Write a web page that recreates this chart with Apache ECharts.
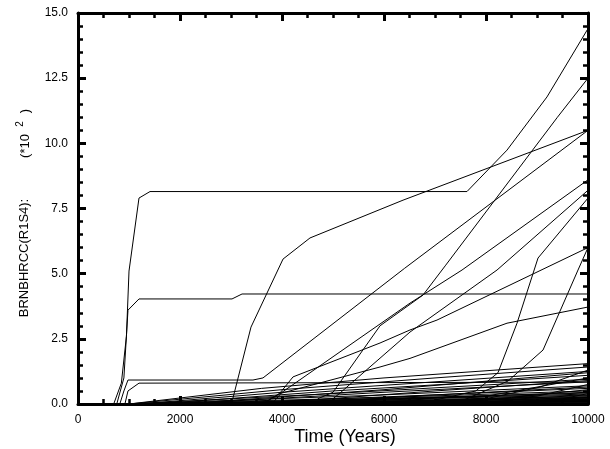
<!DOCTYPE html>
<html>
<head>
<meta charset="utf-8">
<script src="https://cdn.jsdelivr.net/npm/echarts@6/dist/echarts.min.js"></script>
<style>html,body{margin:0;padding:0;background:#fff}#c{width:610px;height:449px}</style>
</head>
<body>
<div id="c"></div>
<script>
// ---- data (Time in years, value in units of 10^2) ----
var xTicks = [0, 2000, 4000, 6000, 8000, 10000];
var yTicks = [0, 2.5, 5, 7.5, 10, 12.5, 15];

var runA = [[700,0],[850,0.8],[950,2.6],[1000,5.1],[1196,7.9],[1412,8.15],[7627,8.15],[8412,9.74],[9196,11.78],[10000,14.4]];
var runC = [[760,0],[900,1.0],[980,3.6],[1196,4.03],[3020,4.03],[3216,4.22],[10000,4.22]];
var runD = [[820,0],[900,0.5],[980,0.92],[3431,0.92],[3627,1.0],[6400,5.2],[10000,10.5]];
var runD2 = [[920,0],[980,0.5],[1196,0.8],[10000,0.84]];
var runB = [[2950,0],[3039,0.23],[3392,2.95],[4020,5.56],[4549,6.37],[6373,7.82],[10000,10.5]];
var runE = [[4700,0.2],[5000,0.45],[5922,3.0],[6765,4.18],[7200,5.3],[9400,11.0],[10000,12.5]];
var runF = [[3800,0],[4000,0.45],[6510,3.87],[7530,5.14],[10000,8.6]];
var runG = [[5000,0.2],[5137,0.42],[6510,2.76],[8216,5.14],[10000,8.2]];
var runH = [[7000,0.15],[7800,0.5],[8235,1.2],[8608,3.1],[9020,5.6],[10000,7.9]];
var runI = [[7500,0.1],[8431,0.88],[9118,2.07],[9804,5.14],[10000,6.0]];
var runJ = [[3700,0.1],[3960,0.4],[5922,1.42],[6510,1.75],[8412,3.1],[10000,3.72]];
var runK = [[3700,0.1],[3960,0.42],[4216,1.04],[5922,2.34],[6510,2.84],[7039,3.22],[10000,6.0]];

var lowRuns = [
  [[1000,0],[3600,0.6],[6000,1.0],[10000,1.55]],
  [[1000,0],[4000,0.55],[7000,1.0],[10000,1.42]],
  [[1200,0],[4000,0.45],[7000,0.85],[10000,1.25]],
  [[1500,0],[5000,0.5],[8000,0.85],[10000,1.1]],
  [[1000,0],[5000,0.4],[10000,0.95]],
  [[2000,0],[6000,0.45],[10000,0.85]],
  [[1000,0],[6000,0.35],[10000,0.7]],
  [[2500,0],[7000,0.35],[10000,0.6]],
  [[1000,0],[6000,0.25],[10000,0.5]],
  [[3000,0],[7000,0.25],[10000,0.45]],
  [[1000,0],[6000,0.2],[10000,0.38]],
  [[4000,0],[8000,0.2],[10000,0.32]],
  [[1000,0],[6000,0.15],[10000,0.28]],
  [[1500,0],[7000,0.12],[10000,0.22]],
  [[2000,0],[8000,0.1],[10000,0.17]],
  [[1000,0],[10000,0.12]],
  [[3000,0],[10000,0.08]],
  [[1000,0],[10000,0.05]],
  [[6000,0],[8000,0.2],[9059,0.65],[10000,1.3]],
  [[7000,0],[9000,0.3],[10000,0.75]],
  [[5500,0],[8500,0.25],[10000,0.55]],
  [[4000,0],[8000,0.3],[10000,1.0]],
  [[2000,0],[6000,0.55],[10000,1.2]],
  [[3500,0],[7000,0.5],[10000,0.9]],
  [[8000,0],[9500,0.2],[10000,0.4]],
  [[4200,0],[6500,0.3],[10000,0.65]],
  [[5000,0],[8000,0.15],[10000,0.25]],
  [[2000,0],[5000,0.1],[10000,0.2]],
  [[2500,0],[6000,0.18],[10000,0.34]],
  [[3000,0],[7000,0.14],[10000,0.26]],
  [[3500,0],[8000,0.12],[10000,0.19]],
  [[4000,0],[8000,0.1],[10000,0.15]],
  [[4500,0],[9000,0.1],[10000,0.13]],
  [[5000,0],[9000,0.08],[10000,0.1]],
  [[3000,0],[6000,0.22],[10000,0.42]],
  [[6000,0],[9000,0.12],[10000,0.18]],
  [[7000,0],[9500,0.1],[10000,0.14]],
  [[1500,0],[5000,0.08],[10000,0.09]],
  [[2500,0],[7000,0.05],[10000,0.07]]
];

var allRuns = [runA, runC, runD, runD2, runB, runE, runF, runG, runH, runI, runJ, runK].concat(lowRuns);

// ---- chart ----
var chart = echarts.init(document.getElementById('c'));
var FONT = 'Liberation Sans';
function axisCommon(showLabel, fmt) {
  return {
    axisLine: {show: true, onZero: false, lineStyle: {color: '#000', width: 3}},
    axisTick: {show: true, inside: true, length: 8, lineStyle: {color: '#000', width: 3}},
    minorTick: {show: true, length: 5, lineStyle: {color: '#000', width: 2.5}},
    splitLine: {show: false},
    axisLabel: {show: showLabel, color: '#000', fontFamily: FONT, fontSize: 12, margin: 10, formatter: fmt}
  };
}
var xBottom = Object.assign({type: 'value', min: xTicks[0], max: xTicks[xTicks.length-1], interval: xTicks[1]-xTicks[0], position: 'bottom', gridIndex: 0}, axisCommon(true, function(v){return String(v);}));
xBottom.minorTick.splitNumber = 4;
var xTop = Object.assign({type: 'value', min: xTicks[0], max: xTicks[xTicks.length-1], interval: xTicks[1]-xTicks[0], position: 'top', gridIndex: 0}, axisCommon(false));
xTop.minorTick.splitNumber = 4;
var yLeft = Object.assign({type: 'value', min: yTicks[0], max: yTicks[yTicks.length-1], interval: yTicks[1]-yTicks[0], position: 'left', gridIndex: 0}, axisCommon(true, function(v){return v.toFixed(1);}));
yLeft.minorTick.splitNumber = 5;
var yRight = Object.assign({type: 'value', min: yTicks[0], max: yTicks[yTicks.length-1], interval: yTicks[1]-yTicks[0], position: 'right', gridIndex: 0}, axisCommon(false));
yRight.minorTick.splitNumber = 5;

var series = allRuns.map(function(r){
  return {type: 'line', xAxisIndex: 0, yAxisIndex: 0, data: r, showSymbol: false, symbol: 'none',
          lineStyle: {color: '#000', width: 1}, silent: true, z: 1};
});

chart.setOption({
  animation: false,
  backgroundColor: '#fff',
  grid: {left: 78, right: 22, top: 13, bottom: 45, containLabel: false},
  xAxis: [xBottom, xTop],
  yAxis: [yLeft, yRight],
  series: series,
  graphic: [
    {type: 'text', style: {text: 'Time (Years)', fill: '#000', font: '18px "Liberation Sans"', x: 345, y: 437, textAlign: 'center', textVerticalAlign: 'middle'}},
    {type: 'text', x: 24, y: 258, rotation: Math.PI/2, style: {text: 'BRNBHRCC(R1S4):', fill: '#000', font: '13px "Liberation Sans"', textAlign: 'center', textVerticalAlign: 'middle'}},
    {type: 'text', x: 25, y: 146, rotation: Math.PI/2, style: {text: '(*10', fill: '#000', font: '13px "Liberation Sans"', textAlign: 'center', textVerticalAlign: 'middle'}},
    {type: 'text', x: 20, y: 124, rotation: Math.PI/2, style: {text: '2', fill: '#000', font: '10px "Liberation Sans"', textAlign: 'center', textVerticalAlign: 'middle'}},
    {type: 'text', x: 25, y: 111, rotation: Math.PI/2, style: {text: ')', fill: '#000', font: '13px "Liberation Sans"', textAlign: 'center', textVerticalAlign: 'middle'}}
  ]
});
</script>
</body>
</html>
